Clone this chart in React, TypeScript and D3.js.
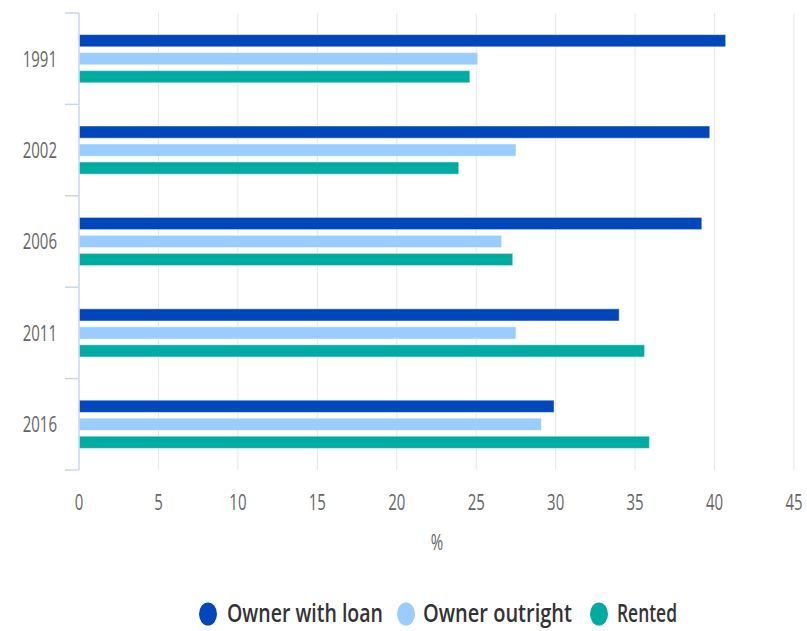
import React from 'react'
import * as d3 from 'd3'

const years = ['1991', '2002', '2006', '2011', '2016']
const seriesNames = ['Owner with loan', 'Owner outright', 'Rented']
const ownerWithLoan = [40.7, 39.7, 39.2, 34.0, 29.9]
const ownerOutright = [25.1, 27.5, 26.6, 27.5, 29.1]
const rented = [24.6, 23.9, 27.3, 35.6, 35.9]
const xTicks = [0, 5, 10, 15, 20, 25, 30, 35, 40, 45]
const colors = ['#0047bb', '#99ccff', '#00aca2']

const seriesValues = [ownerWithLoan, ownerOutright, rented]

// the reference text is stretched vertically
const STRETCH = 1.45
const FONT = '"Open Sans", "Noto Sans", sans-serif'

const Txt = ({ x, y, children, anchor = 'middle', size = 15, fill = '#666', weight = 400, len }: any) => (
  <text
    transform={`translate(${x},${y}) scale(1,${STRETCH})`}
    y={size * 0.36}
    textAnchor={anchor}
    fontSize={size}
    fontFamily={FONT}
    fontWeight={weight}
    fill={fill}
    textLength={len}
    lengthAdjust={len ? 'spacingAndGlyphs' : undefined}
  >
    {children}
  </text>
)

const App = () => {
  const width = 807
  const height = 631
  const margin = { top: 13, right: 13, bottom: 161, left: 79 }
  const innerH = height - margin.top - margin.bottom

  const xScale = d3.scaleLinear().domain([0, 45]).range([0, 715])
  const yScale = d3.scaleBand().domain(years).range([0, innerH])
  const yInner = d3
    .scaleBand()
    .domain(seriesNames)
    .range([0, yScale.bandwidth()])
    .paddingInner(0.32)
    .paddingOuter(1.2)

  const legendItems = [
    { name: seriesNames[0], cx: 208, tx: 227, len: 156 },
    { name: seriesNames[1], cx: 406, tx: 423, len: 149 },
    { name: seriesNames[2], cx: 599, tx: 617, len: 60 },
  ]

  return (
    <svg
      width={width}
      height={height}
      style={{ position: 'absolute', left: 0, top: 0, background: '#fff' }}
    >
      <g transform={`translate(${margin.left},${margin.top})`}>
        {/* grid */}
        {xTicks.slice(1).map((t) => (
          <line
            key={t}
            x1={xScale(t)}
            x2={xScale(t)}
            y1={0}
            y2={innerH}
            stroke='#e6e6e6'
            strokeWidth={1}
          />
        ))}
        {/* bars */}
        {years.map((yr, i) => (
          <g key={yr} transform={`translate(0,${yScale(yr)})`}>
            {seriesNames.map((s, j) => (
              <rect
                key={s}
                x={0}
                y={yInner(s)}
                width={xScale(seriesValues[j][i])}
                height={yInner.bandwidth()}
                fill={colors[j]}
                stroke='#ffffff'
                strokeOpacity={0.5}
                strokeWidth={1}
              />
            ))}
          </g>
        ))}
        {/* y axis */}
        <line x1={0} x2={0} y1={0} y2={innerH} stroke='#ccd6eb' strokeWidth={1.5} />
        {d3.range(years.length + 1).map((i) => (
          <line
            key={i}
            x1={-14}
            x2={0}
            y1={i * yScale.step()}
            y2={i * yScale.step()}
            stroke='#ccd6eb'
            strokeWidth={1.5}
          />
        ))}
        {years.map((yr) => (
          <Txt key={yr} x={-22} y={(yScale(yr) as number) + yScale.bandwidth() / 2} anchor='end'>
            {yr}
          </Txt>
        ))}
        {/* x axis labels */}
        {xTicks.map((t) => (
          <Txt key={t} x={xScale(t)} y={innerH + 32}>
            {t}
          </Txt>
        ))}
        <Txt x={358} y={innerH + 72}>
          %
        </Txt>
      </g>
      {/* legend */}
      {legendItems.map((d, i) => (
        <g key={d.name}>
          <ellipse cx={d.cx} cy={614} rx={9} ry={11.5} fill={colors[i]} />
          <Txt x={d.tx} y={613} anchor='start' size={18} fill='#333' weight={600} len={d.len}>
            {d.name}
          </Txt>
        </g>
      ))}
    </svg>
  )
}

export default App
